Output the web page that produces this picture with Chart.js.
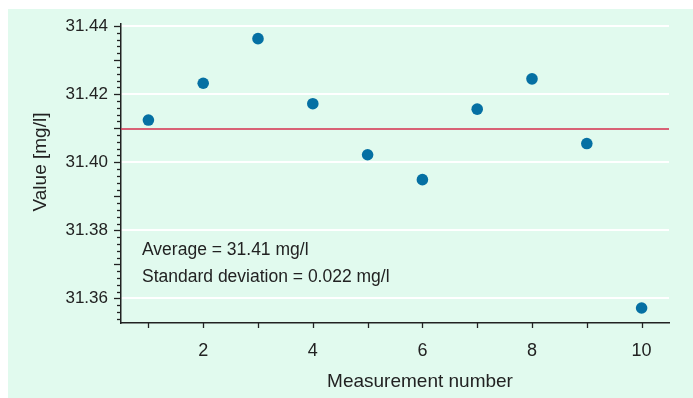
<!DOCTYPE html>
<html>
<head>
<meta charset="utf-8">
<script src="https://cdn.jsdelivr.net/npm/chart.js@4.4.1/dist/chart.umd.min.js"></script>
<style>
    html, body { margin: 0; padding: 0; background: #fff; }
    #chart { display: block; }
</style>
</head>
<body>
<canvas id="chart" width="693" height="398"></canvas>
<script>
// Data
const measurementNumbers = [1, 2, 3, 4, 5, 6, 7, 8, 9, 10];
const values = [31.4124, 31.4232, 31.4363, 31.4172, 31.4022, 31.3949, 31.4156, 31.4245, 31.4055, 31.3572];
const average = 31.4098;
const yTickValues = [31.36, 31.38, 31.40, 31.42, 31.44];
const xTickValues = [2, 4, 6, 8, 10];
const noteLines = ['Average = 31.41 mg/l', 'Standard deviation = 0.022 mg/l'];

const FONT = "'Liberation Sans Narrow', 'Liberation Sans', Arial, sans-serif";
const TEXT = '#222';

// Background, tick marks and texts
const decor = {
    id: 'decor',
    beforeDraw(chart) {
        const c = chart.ctx;
        c.save();
        c.fillStyle = '#fff';
        c.fillRect(0, 0, chart.width, chart.height);
        c.fillStyle = '#e1faee';
        c.fillRect(8, 9, chart.width - 8, chart.height - 9);
        c.restore();
    },
    afterDraw(chart) {
        const c = chart.ctx;
        const x = chart.scales.x, y = chart.scales.y;
        const area = chart.chartArea;
        c.save();
        c.strokeStyle = TEXT;
        c.lineWidth = 1.3;
        // y ticks every 0.002, longer every 0.01
        for (let k = 0; k <= 50; k++) {
            const v = 31.34 + k * 0.002;
            if (v < y.min - 1e-9 || v > y.max + 1e-9) continue;
            const py = Math.round(y.getPixelForValue(v)) + 0.5;
            const big = k % 5 === 0;
            c.beginPath();
            c.moveTo(area.left, py);
            c.lineTo(area.left - (big ? 7 : 4), py);
            c.stroke();
        }
        // x ticks at every integer
        measurementNumbers.forEach(n => {
            const px = Math.round(x.getPixelForValue(n)) + 0.5;
            c.beginPath();
            c.moveTo(px, area.bottom);
            c.lineTo(px, area.bottom + 5);
            c.stroke();
        });
        // texts
        c.fillStyle = TEXT;
        c.font = '17.5px ' + FONT;
        c.textBaseline = 'middle';
        c.textAlign = 'left';
        c.fillText(noteLines[0], 142, 250);
        c.fillText(noteLines[1], 142, 277);
        c.font = '19px ' + FONT;
        c.textAlign = 'center';
        c.fillText('Measurement number', 420, 382);
        c.translate(41, 162);
        c.rotate(-Math.PI / 2);
        c.fillText('Value [mg/l]', 0, 0);
        c.restore();
    }
};

new Chart(document.getElementById('chart'), {
    type: 'scatter',
    data: {
        datasets: [
            {
                type: 'line',
                data: [{ x: 0.5, y: average }, { x: 10.5, y: average }],
                borderColor: '#d42e4c',
                borderWidth: 1.5,
                pointRadius: 0,
                order: 2
            },
            {
                data: measurementNumbers.map((n, i) => ({ x: n, y: values[i] })),
                backgroundColor: '#0570a3',
                borderWidth: 0,
                pointRadius: 5.8,
                order: 1
            }
        ]
    },
    options: {
        responsive: false,
        animation: false,
        layout: { padding: { top: 24, right: 24, left: 0, bottom: 0 } },
        plugins: { legend: { display: false }, tooltip: { enabled: false } },
        scales: {
            x: {
                type: 'linear',
                min: 0.5,
                max: 10.5,
                afterBuildTicks: s => { s.ticks = xTickValues.map(v => ({ value: v })); },
                afterFit: s => { s.height = 75; },
                grid: { display: false, drawTicks: false },
                border: { color: TEXT, width: 1.5 },
                ticks: { padding: 17, color: TEXT, font: { family: FONT, size: 18 } }
            },
            y: {
                min: 31.3528,
                max: 31.4406,
                afterBuildTicks: s => { s.ticks = yTickValues.map(v => ({ value: v })); },
                afterFit: s => { s.width = 121; },
                grid: { color: '#ffffff', lineWidth: 2, drawTicks: false },
                border: { color: TEXT, width: 1.5 },
                ticks: {
                    padding: 13,
                    color: TEXT,
                    font: { family: FONT, size: 17 },
                    callback: v => v.toFixed(2)
                }
            }
        }
    },
    plugins: [decor]
});
</script>
</body>
</html>
